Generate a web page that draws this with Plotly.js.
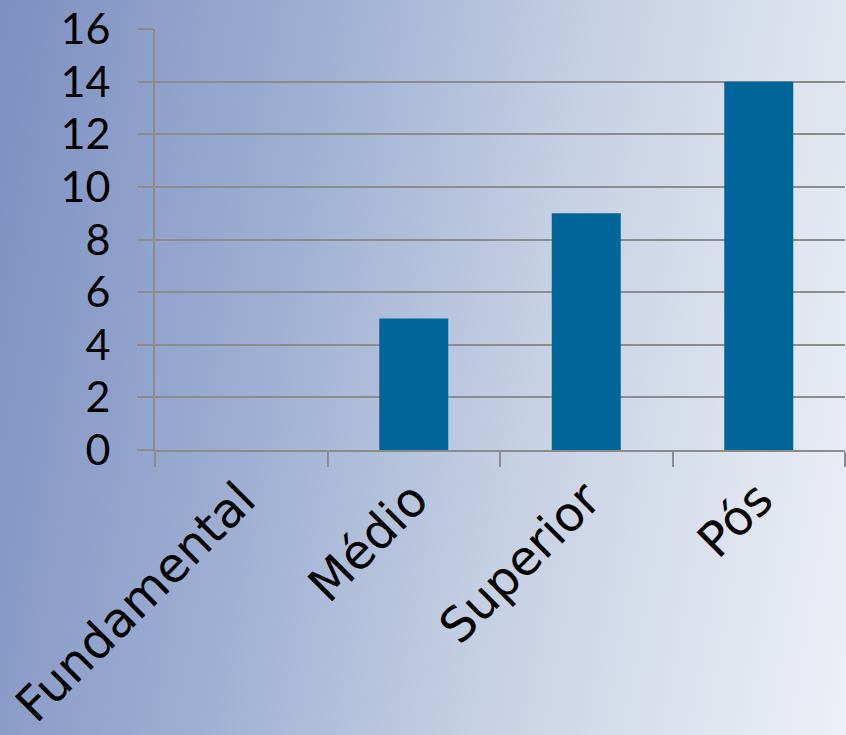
<!DOCTYPE html>
<html><head><meta charset="utf-8">
<script src="https://cdn.plot.ly/plotly-3.0.1.min.js"></script>
<style>
html,body{margin:0;padding:0;}
body{width:846px;height:735px;overflow:hidden;
background:linear-gradient(100deg,#7d8fc2 0%,#a0b1d3 35%,#c7d1e4 62%,#eef0f6 100%);}
#chart{width:846px;height:735px;}
</style></head><body>
<div id="chart"></div>
<script>
const categories = ["Fundamental", "Médio", "Superior", "Pós"];
const values = [0, 5, 9, 14];
const yTicks = [0, 2, 4, 6, 8, 10, 12, 14, 16];

const grid = '#8c8c8c';
const fontFam = 'Lato, "DejaVu Sans", sans-serif';
Plotly.newPlot('chart', [{
  type: 'bar', x: categories, y: values,
  marker: {color: '#00669a'}, hoverinfo: 'none'
}], {
  width: 846, height: 735,
  margin: {l: 155, r: 1, t: 29, b: 285},
  paper_bgcolor: 'rgba(0,0,0,0)', plot_bgcolor: 'rgba(0,0,0,0)',
  bargap: 0.6, showlegend: false,
  font: {family: fontFam, color: '#000'},
  xaxis: {
    type: 'category', tickson: 'boundaries', ticks: 'outside', ticklen: 15, tickwidth: 2,
    tickcolor: grid, showline: true, linecolor: grid, linewidth: 2, showgrid: false,
    tickangle: -45, tickfont: {size: 48, family: '"DejaVu Sans", sans-serif'}
  },
  yaxis: {
    range: [0, 16], tickvals: yTicks, ticks: 'outside', ticklen: 16, tickwidth: 2, tickcolor: grid,
    showline: true, linecolor: grid, linewidth: 2, gridcolor: grid, gridwidth: 2,
    zeroline: false, tickfont: {size: 43, family: fontFam}, ticklabelstandoff: 18
  }
}, {staticPlot: true});
</script></body></html>
